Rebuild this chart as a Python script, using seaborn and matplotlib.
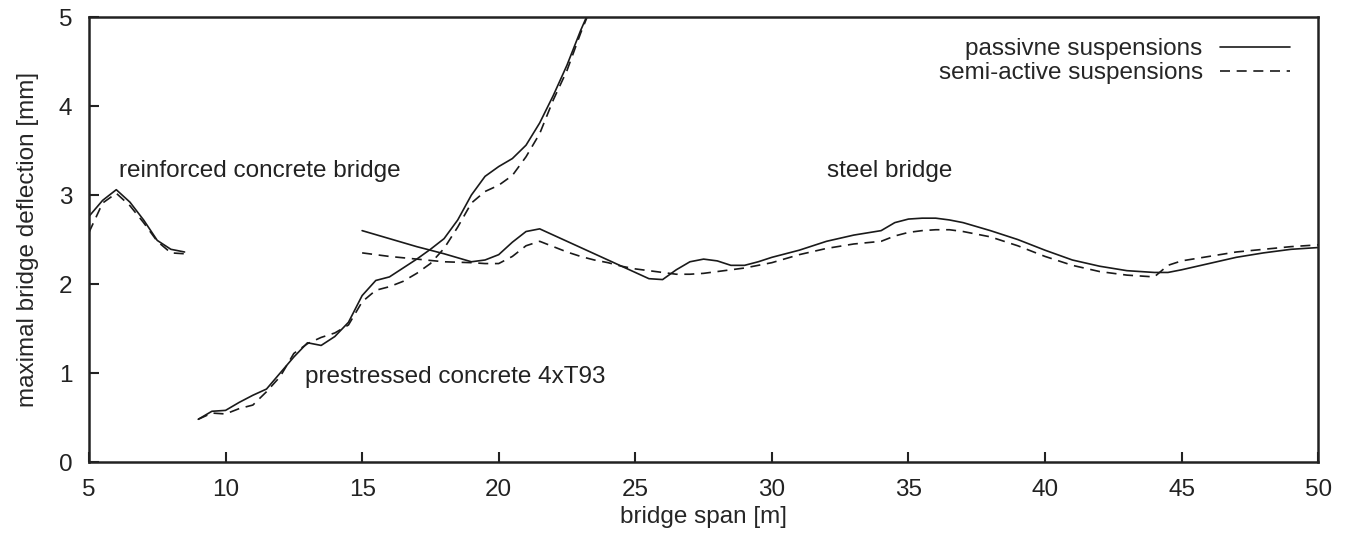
import matplotlib
matplotlib.use('Agg')
import matplotlib.pyplot as plt
import seaborn as sns
import pandas as pd
from matplotlib.lines import Line2D

# reinforced concrete bridge
rc_span = [5.0, 5.5, 6.0, 6.5, 7.0, 7.5, 8.0, 8.5]
rc_passive = [2.76, 2.94, 3.06, 2.92, 2.72, 2.49, 2.39, 2.36]
rc_semi = [2.58, 2.91, 3.02, 2.88, 2.69, 2.48, 2.35, 2.34]

# prestressed concrete 4xT93
pc_span = [9.0, 9.5, 10.0, 10.5, 11.0, 11.5, 12.0, 12.5, 13.0, 13.5, 14.0, 14.5,
           15.0, 15.5, 16.0, 16.5, 17.0, 17.5, 18.0, 18.5, 19.0, 19.5, 20.0, 20.5,
           21.0, 21.5, 22.0, 22.5, 23.0, 23.5]
pc_passive = [0.48, 0.57, 0.58, 0.67, 0.75, 0.82, 1.00, 1.18, 1.34, 1.31, 1.41, 1.57,
              1.87, 2.04, 2.08, 2.18, 2.28, 2.39, 2.51, 2.72, 3.00, 3.21, 3.32, 3.41,
              3.56, 3.81, 4.12, 4.46, 4.85, 5.20]
pc_semi = [0.48, 0.55, 0.54, 0.60, 0.64, 0.79, 0.96, 1.22, 1.33, 1.40, 1.45, 1.54,
           1.80, 1.93, 1.97, 2.03, 2.12, 2.23, 2.40, 2.64, 2.91, 3.04, 3.11, 3.22,
           3.43, 3.69, 4.07, 4.40, 4.82, 5.20]

# steel bridge
st_span = [15, 16, 17, 18, 19, 19.5, 20, 20.5, 21, 21.5, 22, 22.5, 23, 23.5, 24, 24.5,
           25, 25.5, 26, 26.5, 27, 27.5, 28, 28.5, 29, 29.5, 30, 31, 32, 33, 34, 34.5,
           35, 35.5, 36, 36.5, 37, 38, 39, 40, 41, 42, 43, 44, 44.5, 45, 46, 47, 48,
           49, 50]
st_passive = [2.60, 2.51, 2.42, 2.34, 2.25, 2.27, 2.33, 2.47, 2.59, 2.62, 2.55, 2.48,
              2.41, 2.34, 2.27, 2.20, 2.13, 2.06, 2.05, 2.16, 2.25, 2.28, 2.26, 2.21,
              2.21, 2.25, 2.30, 2.38, 2.48, 2.55, 2.60, 2.69, 2.73, 2.74, 2.74, 2.72,
              2.69, 2.60, 2.50, 2.38, 2.27, 2.20, 2.15, 2.13, 2.13, 2.16, 2.23, 2.30,
              2.35, 2.39, 2.41]
st_semi = [2.35, 2.31, 2.28, 2.25, 2.24, 2.23, 2.23, 2.31, 2.43, 2.48, 2.42, 2.36,
           2.31, 2.27, 2.24, 2.20, 2.17, 2.15, 2.13, 2.11, 2.11, 2.12, 2.14, 2.16,
           2.18, 2.21, 2.24, 2.33, 2.40, 2.45, 2.48, 2.54, 2.58, 2.60, 2.61, 2.61,
           2.59, 2.53, 2.43, 2.31, 2.21, 2.14, 2.10, 2.08, 2.21, 2.26, 2.31, 2.36,
           2.39, 2.42, 2.44]

sns.set_style('ticks')
plt.rcParams['font.family'] = ['Liberation Sans', 'DejaVu Sans']
fs = 17.5

fig = plt.figure(figsize=(13.52, 5.33), dpi=100)
ax = fig.add_axes([0.0658, 0.1332, 0.9092, 0.8348])

line_col = '#1a1a1a'
dash = (6, 4)
for span, passive, semi in [(rc_span, rc_passive, rc_semi),
                            (pc_span, pc_passive, pc_semi),
                            (st_span, st_passive, st_semi)]:
    df = pd.DataFrame({'span': span, 'passive': passive, 'semi': semi})
    sns.lineplot(data=df, x='span', y='passive', ax=ax, color=line_col,
                 linewidth=1.2, sort=False, estimator=None)
    sns.lineplot(data=df, x='span', y='semi', ax=ax, color=line_col,
                 linewidth=1.2, sort=False, estimator=None, dashes=False)
    ax.lines[-1].set_dashes(dash)

ax.set_xlim(5, 50)
ax.set_ylim(0, 5)
ax.set_xticks(range(5, 51, 5))
ax.set_yticks(range(0, 6))
ax.tick_params(direction='in', length=7, width=1.5, labelsize=fs, colors='#222222')
ax.tick_params(axis='x', pad=12)
ax.tick_params(axis='y', pad=12)
for s in ax.spines.values():
    s.set_linewidth(1.8)
    s.set_color('#222222')

ax.set_xlabel('bridge span [m]', fontsize=fs, labelpad=4)
ax.set_ylabel('maximal bridge deflection [mm]', fontsize=fs, labelpad=14)

ax.text(6.1, 3.27, 'reinforced concrete bridge', fontsize=fs, va='center', color='#222222')
ax.text(12.9, 0.96, 'prestressed concrete 4xT93', fontsize=fs, va='center', color='#222222')
ax.text(32.0, 3.27, 'steel bridge', fontsize=fs, va='center', color='#222222')

handles = [Line2D([], [], color=line_col, linewidth=1.2),
           Line2D([], [], color=line_col, linewidth=1.2, dashes=dash)]
ax.legend(handles, ['passivne suspensions', 'semi-active suspensions'],
          loc='upper right', frameon=False, markerfirst=False, fontsize=fs,
          handlelength=2.9, handletextpad=0.7, labelspacing=0.1,
          bbox_to_anchor=(0.995, 1.002))

fig.savefig('out.png', dpi=100)
